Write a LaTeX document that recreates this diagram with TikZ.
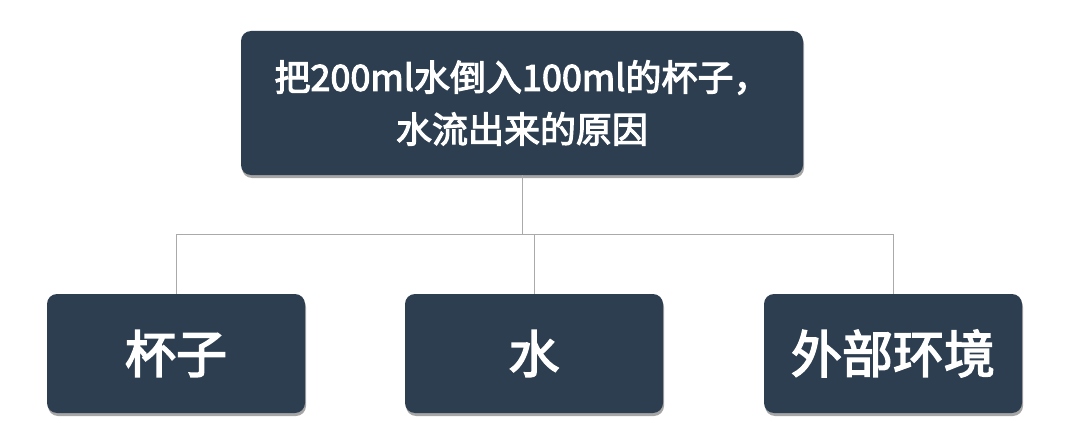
\documentclass[tikz,border=0pt]{standalone}
\usepackage{fontspec}
\newfontfamily\cjk[FakeBold=3]{Noto Sans CJK SC}
\usetikzlibrary{shadows}
\definecolor{boxfill}{HTML}{2C3E50}
\definecolor{linegray}{HTML}{AAAAAA}
\begin{document}
\begin{tikzpicture}[x=1pt,y=-1pt,
  box/.style={fill=boxfill, rounded corners=10pt, text=white, inner sep=0pt,
    drop shadow={shadow xshift=1pt, shadow yshift=-3pt, opacity=0.35, fill=black}},
  conn/.style={draw=linegray, line width=1pt}]
\useasboundingbox[fill=white] (0,0) rectangle (1080,444);
\node[box, minimum width=562pt, minimum height=144pt, align=center,
  font=\cjk\fontsize{36}{52}\selectfont] (top) at (522,103)
  {把200ml水倒入100ml的杯子，\\水流出来的原因};
\node[box, minimum width=258pt, minimum height=119pt,
  font=\cjk\fontsize{51}{60}\selectfont] (cup) at (176,353.5) {杯子};
\node[box, minimum width=258pt, minimum height=119pt,
  font=\cjk\fontsize{51}{60}\selectfont] (water) at (534,353.5) {水};
\node[box, minimum width=258pt, minimum height=119pt,
  font=\cjk\fontsize{51}{60}\selectfont] (env) at (893,353.5) {外部环境};
\coordinate (j) at (522,234);
\draw[conn] (top.south) -- (j);
\draw[conn] (cup.north) |- (j);
\draw[conn] (env.north) |- (j);
\draw[conn] (water.north) -- (water.north |- j);
\end{tikzpicture}
\end{document}
